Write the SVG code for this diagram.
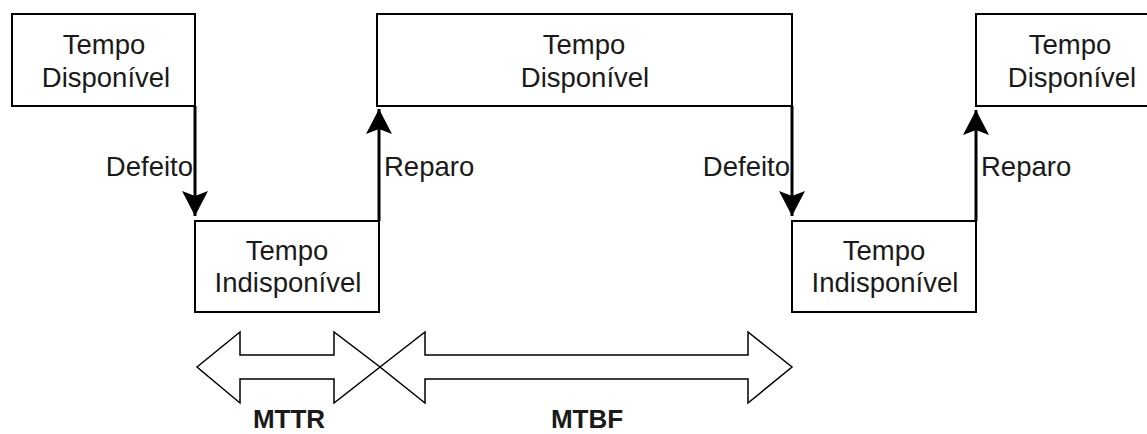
<svg xmlns="http://www.w3.org/2000/svg" width="1147" height="434" viewBox="0 0 1147 434">
  <style>
    .box { fill: #ffffff; stroke: #000000; stroke-width: 2; }
    .lbl { font-family: "Liberation Sans", Arial, Helvetica, sans-serif; font-size: 27.5px; fill: #1a1a1a; text-anchor: middle; }
    .edge { font-family: "Liberation Sans", Arial, Helvetica, sans-serif; font-size: 27.5px; fill: #1a1a1a; }
    .bold { font-family: "Liberation Sans", Arial, Helvetica, sans-serif; font-size: 26px; font-weight: bold; fill: #1a1a1a; text-anchor: middle; }
    .conn { fill: none; stroke: #000000; stroke-width: 3; marker-end: url(#head); }
    .flex { fill: #ffffff; stroke: #000000; stroke-width: 1.5; stroke-linejoin: miter; }
  </style>
  <defs>
    <marker id="head" markerUnits="userSpaceOnUse" markerWidth="26" markerHeight="26" viewBox="0 0 26 26" refX="25" refY="13" orient="auto">
      <path d="M0,0 L25,13 L0,26 L5,13 Z" fill="#000000"/>
    </marker>
  </defs>
  <rect width="1147" height="434" fill="#ffffff"/>

  <g id="connectors">
    <path class="conn" d="M195,106 L195,216"/>
    <path class="conn" d="M379,221 L379,109"/>
    <path class="conn" d="M792,106 L792,216"/>
    <path class="conn" d="M976,221 L976,110"/>
    <text class="edge" x="193" y="176" text-anchor="end">Defeito</text>
    <text class="edge" x="384" y="176">Reparo</text>
    <text class="edge" x="790" y="176" text-anchor="end">Defeito</text>
    <text class="edge" x="981" y="176">Reparo</text>
  </g>

  <g id="disp1">
    <rect class="box" x="12" y="14" width="183" height="92"/>
    <text class="lbl" x="104" y="54">Tempo</text>
    <text class="lbl" x="106" y="87">Disponível</text>
  </g>
  <g id="disp2">
    <rect class="box" x="377" y="14" width="415" height="92"/>
    <text class="lbl" x="584" y="54">Tempo</text>
    <text class="lbl" x="585" y="87">Disponível</text>
  </g>
  <g id="disp3">
    <rect class="box" x="976" y="14" width="190" height="92"/>
    <text class="lbl" x="1070" y="54">Tempo</text>
    <text class="lbl" x="1072" y="87">Disponível</text>
  </g>
  <g id="indisp1">
    <rect class="box" x="195" y="221" width="184" height="91"/>
    <text class="lbl" x="287" y="260">Tempo</text>
    <text class="lbl" x="288" y="292">Indisponível</text>
  </g>
  <g id="indisp2">
    <rect class="box" x="792" y="221" width="184" height="91"/>
    <text class="lbl" x="884" y="260">Tempo</text>
    <text class="lbl" x="885" y="292">Indisponível</text>
  </g>

  <g id="mttr">
    <path class="flex" d="M197,367 L240,332 L240,355 L334,355 L334,332 L380,367 L334,403 L334,379 L240,379 L240,403 Z"/>
    <text class="bold" x="289" y="428">MTTR</text>
  </g>
  <g id="mtbf">
    <path class="flex" d="M380,367 L425,332 L425,355 L748,355 L748,332 L792,367 L748,403 L748,379 L425,379 L425,403 Z"/>
    <text class="bold" x="587" y="428">MTBF</text>
  </g>
</svg>
